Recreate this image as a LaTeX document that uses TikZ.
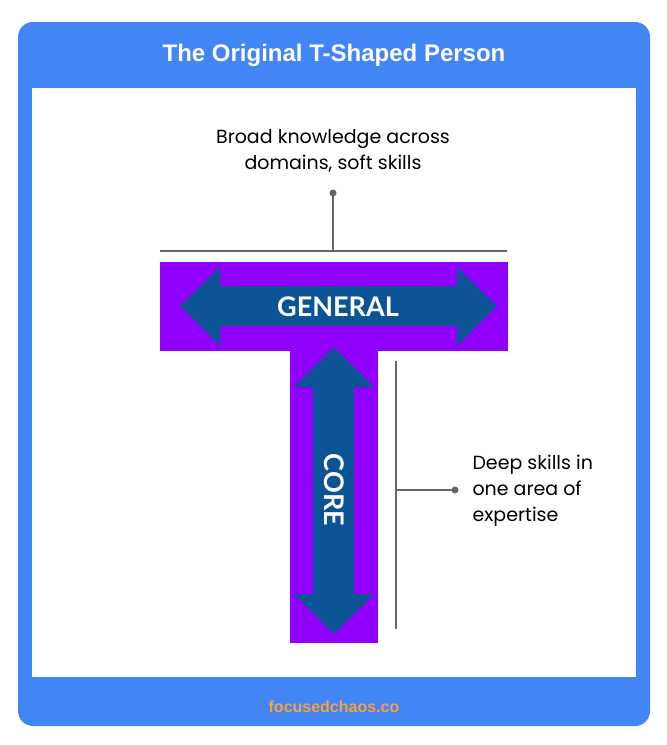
\documentclass[tikz,border=0pt]{standalone}
\usepackage{fontspec}
\setmainfont{Lato}
\newfontfamily\titlefont{Liberation Sans}
\newfontfamily\notefont{Poppins}
\usetikzlibrary{positioning}
\definecolor{FrameBlue}{HTML}{4285F4}
\definecolor{TPurple}{HTML}{9100FF}
\definecolor{ArrowBlue}{HTML}{0B5394}
\definecolor{LeaderGray}{HTML}{666666}
\definecolor{FooterOrange}{HTML}{F6A23A}

\begin{document}
\begin{tikzpicture}[x=1pt,y=-1pt,
  leader/.style={draw=LeaderGray,line width=2pt},
  dotend/.style={circle,fill=LeaderGray,inner sep=0pt,minimum size=7pt},
  note/.style={font=\notefont\fontsize{19}{26}\selectfont,text=black},
  armlabel/.style={font=\bfseries\fontsize{27}{30}\selectfont,text=white}]
  \useasboundingbox (0,0) rectangle (667,745);
  % frame
  \fill[FrameBlue,rounded corners=15pt] (18,22) rectangle (650,726);
  \fill[white] (32,88) rectangle (636,677);
  \node[font=\titlefont\bfseries\fontsize{24}{28}\selectfont,text=white] (title) at (334,55) {The Original T-Shaped Person};
  \node[font=\titlefont\bfseries\fontsize{16}{19}\selectfont,text=FooterOrange] (footer) at (334,707) {focusedchaos.co};
  % the T
  \fill[TPurple] (160,262) rectangle (508,351);
  \fill[TPurple] (290,351) rectangle (378,643);
  \fill[ArrowBlue] (180,306) -- (220,267) -- (220,286) -- (457,286) -- (457,267) -- (497,306)
    -- (457,346) -- (457,326) -- (220,326) -- (220,346) -- cycle;
  \fill[ArrowBlue] (334,347) -- (374,387) -- (354,387) -- (354,594) -- (374,594) -- (334,634)
    -- (294,594) -- (313,594) -- (313,387) -- (294,387) -- cycle;
  \node[armlabel] (general) at (338,307) {GENERAL};
  \node[armlabel,rotate=-90] (core) at (334,490) {CORE};
  % leaders
  \coordinate (topL) at (160,251);
  \coordinate (topR) at (507,251);
  \coordinate (topM) at (333,251);
  \node[dotend] (topdot) at (333,193) {};
  \draw[leader] (topL) -- (topR);
  \draw[leader] (topM) -- (topdot.center);
  \node[note,align=center] (broad) at (333,151) {Broad knowledge across\\domains, soft skills};
  \coordinate (sideT) at (396,361);
  \coordinate (sideB) at (396,629);
  \coordinate (sideM) at (396,490);
  \node[dotend] (sidedot) at (455,490) {};
  \draw[leader] (sideT) -- (sideB);
  \draw[leader] (sideM) -- (sidedot.center);
  \node[note,align=left,anchor=west] (deep) at (469,491) {Deep skills in\\one area of\\expertise};
\end{tikzpicture}
\end{document}
